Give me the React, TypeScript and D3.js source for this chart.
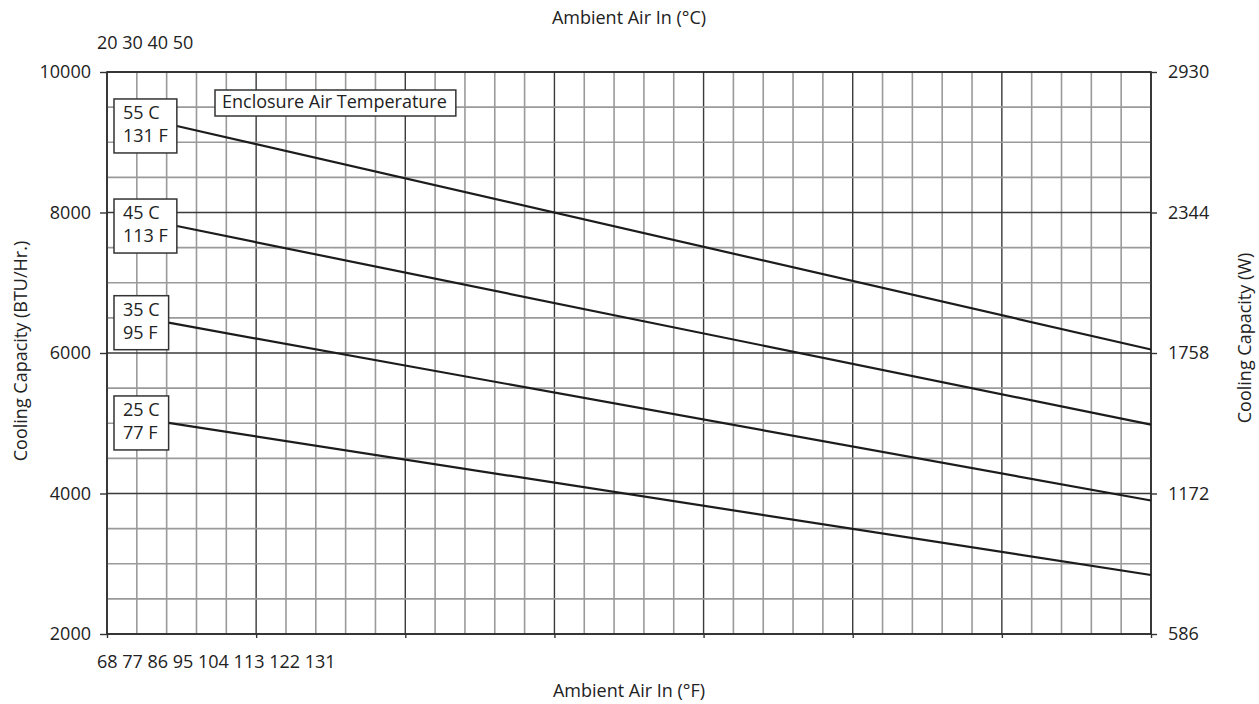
import React, { useEffect, useRef } from 'react';
import * as d3 from 'd3';

// ambient air in °C spans the grid, one minor division per degree
const ambientDomain = [20, 55];
const celsiusLabels = ['20', '30', '40', '50'];
const fahrenheitLabels = ['68', '77', '86', '95', '104', '113', '122', '131'];

const btuTicks = [2000, 4000, 6000, 8000, 10000];
const wattTicks = [586, 1172, 1758, 2344, 2930];

// enclosure air temperature curves (straight lines)
const enclosureC = [55, 45, 35, 25];
const enclosureF = [131, 113, 95, 77];
const capacityAt20 = [9460, 8010, 6590, 5140];
const capacityAt55 = [6050, 4980, 3900, 2840];

const FONT = '"Open Sans", sans-serif';

function App() {
  const chartRef = useRef(null);

  useEffect(() => {
    if (chartRef.current) createChart();
  }, []);

  const createChart = () => {
    d3.select(chartRef.current).selectAll('*').remove();

    const W = 1259;
    const H = 704;
    const margin = { top: 72, right: 108, bottom: 70, left: 107 };

    const svg = d3
      .select(chartRef.current)
      .append('svg')
      .attr('width', W)
      .attr('height', H)
      .style('position', 'absolute')
      .style('left', 0)
      .style('top', 0)
      .style('font-family', FONT);

    const x = d3
      .scaleLinear()
      .domain(ambientDomain)
      .range([margin.left, W - margin.right]);
    const y = d3
      .scaleLinear()
      .domain([2000, 10000])
      .range([H - margin.bottom, margin.top]);
    const yW = d3
      .scaleLinear()
      .domain([586, 2930])
      .range([H - margin.bottom, margin.top]);

    const [x0, x1] = x.range();
    const [y0, y1] = y.range();

    // grid
    const grid = svg.append('g');
    const xMinor = d3.range(ambientDomain[0], ambientDomain[1] + 1, 1);
    const yMinor = d3.range(2000, 10001, 500);
    grid
      .selectAll('.vx')
      .data(xMinor)
      .enter()
      .append('line')
      .attr('x1', (d) => x(d))
      .attr('x2', (d) => x(d))
      .attr('y1', y1)
      .attr('y2', y0)
      .attr('stroke', (d) => (d % 5 === 0 ? '#3a3a3a' : '#9a9a9a'))
      .attr('stroke-width', (d) => (d % 5 === 0 ? 1.4 : 1.6));
    grid
      .selectAll('.hy')
      .data(yMinor)
      .enter()
      .append('line')
      .attr('x1', x0)
      .attr('x2', x1)
      .attr('y1', (d) => y(d))
      .attr('y2', (d) => y(d))
      .attr('stroke', (d) => (d % 2000 === 0 ? '#3a3a3a' : '#9a9a9a'))
      .attr('stroke-width', (d) => (d % 2000 === 0 ? 1.4 : 1.6));

    svg
      .append('rect')
      .attr('x', x0)
      .attr('y', y1)
      .attr('width', x1 - x0)
      .attr('height', y0 - y1)
      .attr('fill', 'none')
      .attr('stroke', '#2a2a2a')
      .attr('stroke-width', 1.6);

    // axes
    const styleAxis = (g) => {
      g.select('.domain').remove();
      g.selectAll('line').attr('stroke', '#333').attr('stroke-width', 1.4);
      g.selectAll('text')
        .attr('font-family', FONT)
        .attr('font-size', 18)
        .attr('fill', '#222');
    };

    svg
      .append('g')
      .attr('transform', `translate(${x0},0)`)
      .call(
        d3
          .axisLeft(y)
          .tickValues(btuTicks)
          .tickFormat(d3.format('d'))
          .tickSize(7)
          .tickPadding(9)
      )
      .call(styleAxis);

    svg
      .append('g')
      .attr('transform', `translate(${x1},0)`)
      .call(
        d3
          .axisRight(yW)
          .tickValues(wattTicks)
          .tickFormat(d3.format('d'))
          .tickSize(6)
          .tickPadding(11)
      )
      .call(styleAxis);

    svg
      .append('g')
      .attr('transform', `translate(0,${y0})`)
      .call(
        d3
          .axisBottom(x)
          .tickValues(d3.range(ambientDomain[0], ambientDomain[1] + 1, 5))
          .tickSize(4)
          .tickFormat(() => '')
      )
      .call(styleAxis);

    // squeezed tick rows, as on the original
    svg
      .append('text')
      .attr('x', x0 - 10)
      .attr('y', 49)
      .attr('font-size', 18)
      .attr('fill', '#222')
      .text(celsiusLabels.join(' '));
    svg
      .append('text')
      .attr('x', x0 - 10)
      .attr('y', y0 + 34)
      .attr('font-size', 18)
      .attr('fill', '#222')
      .text(fahrenheitLabels.join(' '));

    // titles
    const midX = (x0 + x1) / 2;
    svg
      .append('text')
      .attr('x', midX)
      .attr('y', 24)
      .attr('text-anchor', 'middle')
      .attr('font-size', 18)
      .attr('fill', '#222')
      .text('Ambient Air In (°C)');
    svg
      .append('text')
      .attr('x', midX)
      .attr('y', 697)
      .attr('text-anchor', 'middle')
      .attr('font-size', 18)
      .attr('fill', '#222')
      .text('Ambient Air In (°F)');
    svg
      .append('text')
      .attr('transform', `translate(27,351) rotate(-90)`)
      .attr('text-anchor', 'middle')
      .attr('font-size', 18)
      .attr('fill', '#222')
      .text('Cooling Capacity (BTU/Hr.)');
    svg
      .append('text')
      .attr('transform', `translate(1251,338) rotate(-90)`)
      .attr('text-anchor', 'middle')
      .attr('font-size', 18)
      .attr('fill', '#222')
      .text('Cooling Capacity (W)');

    // curves, each starting at the right edge of its label box
    const line = d3
      .line()
      .x((d) => x(d[0]))
      .y((d) => y(d[1]));
    const pad = 9;
    enclosureC.forEach((c, i) => {
      const valueAt = d3
        .scaleLinear()
        .domain(ambientDomain)
        .range([capacityAt20[i], capacityAt55[i]]);

      const path = svg.append('path');
      const g = svg.append('g');
      const rect = g
        .append('rect')
        .attr('fill', 'white')
        .attr('stroke', '#333')
        .attr('stroke-width', 1.5);
      const t1 = g
        .append('text')
        .attr('font-size', 18)
        .attr('fill', '#222')
        .text(`${c} C`);
      const t2 = g
        .append('text')
        .attr('font-size', 18)
        .attr('fill', '#222')
        .text(`${enclosureF[i]} F`);
      const w =
        Math.max(t1.node().getBBox().width, t2.node().getBBox().width) + pad * 2;
      const bx = x0 + 7;
      const startC = x.invert(bx + w);
      const yc = y(valueAt(startC));
      rect.attr('x', bx).attr('y', yc - 27).attr('width', w).attr('height', 54);
      t1.attr('x', bx + pad).attr('y', yc - 7);
      t2.attr('x', bx + pad).attr('y', yc + 16);

      path
        .datum([
          [startC, valueAt(startC)],
          [ambientDomain[1], capacityAt55[i]],
        ])
        .attr('d', line)
        .attr('fill', 'none')
        .attr('stroke', '#1c1c1c')
        .attr('stroke-width', 2.2);
    });

    // legend title box
    const lg = svg.append('g');
    const lr = lg
      .append('rect')
      .attr('fill', 'white')
      .attr('stroke', '#333')
      .attr('stroke-width', 1.5);
    const lt = lg
      .append('text')
      .attr('font-size', 18)
      .attr('fill', '#222')
      .attr('x', 222)
      .attr('y', 108)
      .text('Enclosure Air Temperature');
    const lw = lt.node().getBBox().width;
    lr.attr('x', 215).attr('y', 90).attr('width', lw + 16).attr('height', 26);
  };

  return <div ref={chartRef} />;
}

export default App;
